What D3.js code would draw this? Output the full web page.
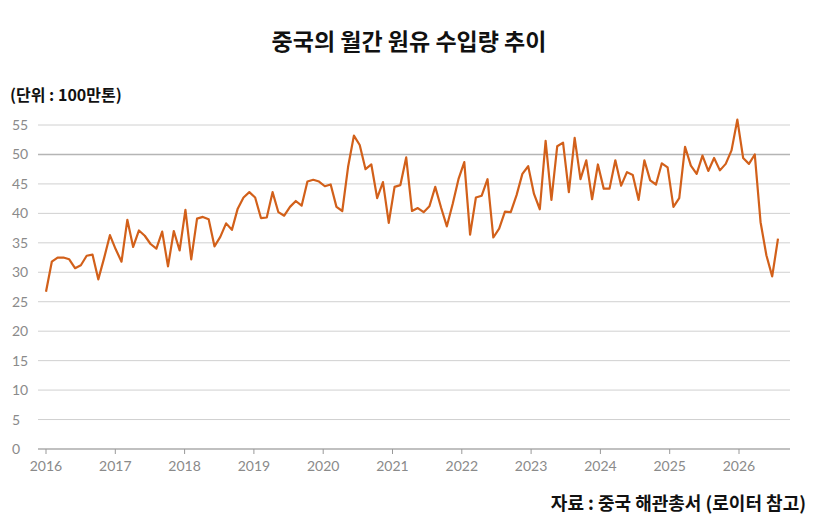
<!DOCTYPE html>
<html><head><meta charset="utf-8">
<script src="https://cdn.jsdelivr.net/npm/d3@7"></script>
<style>body{margin:0;background:#fff;font-family:"Noto Sans CJK KR","Noto Sans",sans-serif}</style>
</head><body><svg id="c" width="817" height="527"></svg>
<script>
// monthly crude imports, million tonnes, from 2016-01
const startYear=2016;
const values=[
26.7,31.8,32.5,32.5,32.2,30.7,31.2,32.8,33.0,28.8,32.4,36.3,
33.9,31.8,38.9,34.3,37.1,36.2,34.8,34.0,36.9,31.0,37.0,33.7,
40.6,32.2,39.1,39.4,39.0,34.4,36.0,38.3,37.2,40.8,42.7,43.6,
42.7,39.2,39.3,43.6,40.2,39.6,41.1,42.1,41.3,45.4,45.7,45.4,
44.6,44.9,41.1,40.4,47.9,53.2,51.6,47.5,48.3,42.6,45.3,38.4,
44.5,44.8,49.5,40.4,40.9,40.2,41.2,44.5,41.0,37.8,41.6,45.8,
48.7,36.4,42.7,43.0,45.8,35.9,37.4,40.3,40.2,43.1,46.7,48.0,
43.3,40.7,52.3,42.3,51.4,52.0,43.6,52.8,45.8,49.0,42.4,48.3,
44.2,44.2,49.0,44.7,47.0,46.5,42.3,49.0,45.6,44.9,48.5,47.8,
41.1,42.6,51.3,48.1,46.7,49.8,47.2,49.4,47.3,48.4,50.7,55.9,
49.4,48.4,50.0,38.5,32.9,29.3,35.7];
const yTicks=d3.range(0,56,5);
const xYears=d3.range(2016,2027);

const svg=d3.select("#c");
const x=d3.scaleLinear().domain([2016,2026]).range([46,739]);
// monthly points spread slightly wider than the year ticks, as in the source
const xi=d3.scaleLinear().domain([0,values.length-1]).range([46,778]);
const y=d3.scaleLinear().domain([0,55]).range([449,125]);

svg.append("text").attr("x",409).attr("y",50).attr("text-anchor","middle")
	.attr("font-size",23).attr("font-weight","bold").attr("fill","#111").text("중국의 월간 원유 수입량 추이");
svg.append("text").attr("x",10).attr("y",101).attr("font-size",16).attr("font-weight","bold").attr("fill","#111").text("(단위 : 100만톤)");

let grid=svg.append("g");
yTicks.forEach(t=>{
	grid.append("line").attr("x1",38).attr("x2",790).attr("y1",y(t)).attr("y2",y(t))
		.attr("stroke",t===50?"#b5b5b5":"#d0d0d0").attr("stroke-width",t===50?1.6:1);
	grid.append("text").attr("x",12).attr("y",y(t)+5).attr("font-size",14).attr("fill","#8a8a8a")
		.attr("font-family","Lato,sans-serif").text(t);
});
svg.append("line").attr("x1",38).attr("x2",790).attr("y1",y(0)).attr("y2",y(0)).attr("stroke","#999");
xYears.forEach(yr=>{
	svg.append("line").attr("x1",x(yr)).attr("x2",x(yr)).attr("y1",449).attr("y2",454).attr("stroke","#999");
	svg.append("text").attr("x",x(yr)).attr("y",471).attr("text-anchor","middle").attr("font-size",14)
		.attr("fill","#8a8a8a").attr("font-family","Lato,sans-serif").text(yr);
});

const line=d3.line().x((d,i)=>xi(i)).y(d=>y(d));
svg.append("path").datum(values).attr("d",line).attr("fill","none")
	.attr("stroke","#d2601a").attr("stroke-width",2.2).attr("stroke-linejoin","round");

svg.append("text").attr("x",806).attr("y",510).attr("text-anchor","end").attr("font-size",18)
	.attr("font-weight","bold").attr("fill","#111").text("자료 : 중국 해관총서 (로이터 참고)");
</script></body></html>
